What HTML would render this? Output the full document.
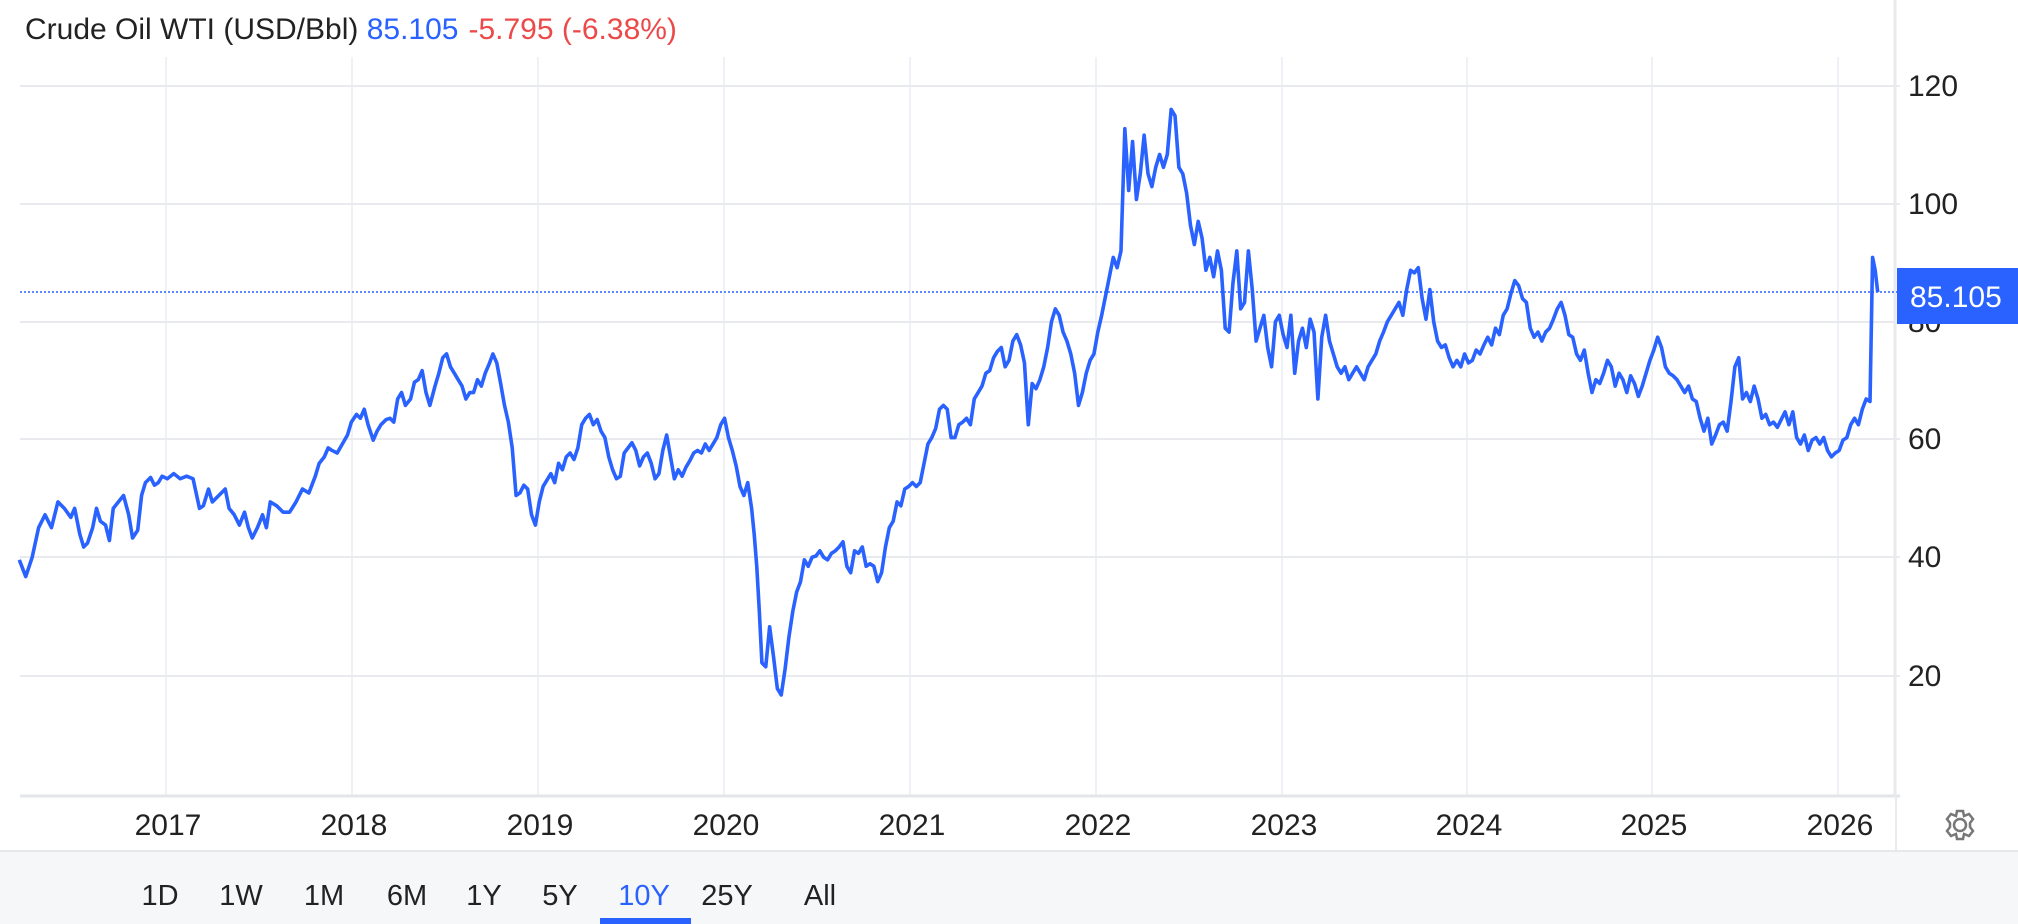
<!DOCTYPE html>
<html><head><meta charset="utf-8"><style>
html,body{margin:0;padding:0;background:#fff;width:2018px;height:924px;overflow:hidden;font-family:"Liberation Sans",Arial,sans-serif}
</style></head><body>
<svg width="2018" height="924" xmlns="http://www.w3.org/2000/svg" font-family="Liberation Sans, Arial, sans-serif">
<rect width="2018" height="924" fill="#fff"/>
<rect x="0" y="851" width="2018" height="73" fill="#f6f7f9"/>
<line x1="0" y1="851" x2="2018" y2="851" stroke="#e6e8eb" stroke-width="2"/>
<g stroke="#eef1f5" stroke-width="2">
<line x1="166" y1="57" x2="166" y2="796"/><line x1="352" y1="57" x2="352" y2="796"/><line x1="538" y1="57" x2="538" y2="796"/><line x1="724" y1="57" x2="724" y2="796"/><line x1="910" y1="57" x2="910" y2="796"/><line x1="1096" y1="57" x2="1096" y2="796"/><line x1="1282" y1="57" x2="1282" y2="796"/><line x1="1467" y1="57" x2="1467" y2="796"/><line x1="1652" y1="57" x2="1652" y2="796"/><line x1="1838" y1="57" x2="1838" y2="796"/>
</g>
<g stroke="#e8eaed" stroke-width="2">
<line x1="20" y1="86" x2="1900" y2="86"/><line x1="20" y1="204" x2="1900" y2="204"/><line x1="20" y1="322" x2="1900" y2="322"/><line x1="20" y1="439" x2="1900" y2="439"/><line x1="20" y1="557" x2="1900" y2="557"/><line x1="20" y1="676" x2="1900" y2="676"/>
</g>
<line x1="20" y1="796" x2="1900" y2="796" stroke="#e3e5e8" stroke-width="3"/>
<line x1="1895" y1="0" x2="1895" y2="796" stroke="#e8eaed" stroke-width="3"/>
<line x1="1896" y1="796" x2="1896" y2="851" stroke="#e8eaed" stroke-width="2"/>
<line x1="20" y1="292" x2="1897" y2="292" stroke="#2962ff" stroke-width="1.5" stroke-dasharray="2,2"/>
<g transform="scale(1.287)">
<polyline fill="none" stroke="#2962ff" stroke-width="2.8" stroke-linejoin="round" points="15,435 20,448 25,433 30,410 35,400 40,410 45,390 50,395 55,402 58,395 62,415 65,425 68,422 72,410 75,395 78,405 82,408 85,420 88,395 92,390 96,385 100,400 103,418 107,412 110,385 113,375 117,371 120,377 123,375 126,370 130,372 135,368 140,372 145,370 150,372 155,395 158,393 162,380 165,390 170,385 175,380 178,395 182,400 186,408 190,398 193,410 196,418 200,410 204,400 207,410 210,390 215,393 220,398 225,398 230,390 235,380 240,383 245,370 248,360 252,355 255,348 258,350 262,352 266,345 270,338 273,328 277,322 280,325 283,318 286,330 290,342 293,335 296,330 300,326 303,325 306,328 309,310 312,305 315,315 319,310 322,297 325,295 328,288 331,305 334,315 338,300 341,290 344,278 347,275 350,285 353,290 356,295 359,300 362,310 365,305 368,305 371,295 374,300 377,290 380,283 383,275 386,282 389,298 392,315 395,328 398,348 401,385 404,383 407,377 410,380 413,400 416,408 419,390 422,378 425,373 428,368 431,375 434,360 437,365 440,355 443,352 446,357 449,348 452,330 455,325 458,322 461,330 464,326 467,335 470,340 473,355 476,365 479,372 482,370 485,352 488,348 491,344 494,350 497,362 500,355 503,352 506,360 509,372 512,368 515,350 518,338 521,355 524,372 527,365 530,370 533,363 536,358 539,352 542,350 545,352 548,345 551,350 554,345 557,340 560,330 563,325 566,340 569,350 572,362 575,378 578,385 581,375 584,395 586,415 588,440 590,475 592,515 595,518 598,487 601,510 604,535 607,540 610,520 613,495 616,475 619,460 622,452 625,435 628,440 631,433 634,432 637,428 640,433 643,435 646,430 649,428 652,425 655,421 658,440 661,445 664,428 667,430 670,425 673,440 676,438 679,440 682,452 685,445 688,425 691,410 694,405 697,390 700,393 703,380 706,378 709,375 712,378 715,375 718,360 721,345 724,340 727,333 730,318 733,315 736,318 739,340 742,340 745,330 748,328 751,325 754,330 757,310 760,305 763,300 766,290 769,288 772,278 775,273 778,270 781,285 784,280 787,265 790,260 793,268 796,282 799,330 802,298 805,302 808,295 811,285 814,270 817,250 820,240 823,245 826,258 829,265 832,275 835,290 838,315 841,305 844,290 847,280 850,275 853,258 856,245 859,230 862,215 865,200 868,208 871,195 874,100 877,148 880,110 883,155 886,135 889,105 892,135 895,145 898,130 901,120 904,130 907,120 910,85 913,90 916,130 919,135 922,150 925,175 928,190 931,172 934,185 937,210 940,200 943,215 946,195 949,210 952,255 955,258 958,220 961,195 964,240 967,235 970,195 973,225 976,265 979,255 982,245 985,270 988,285 991,250 994,245 997,260 1000,270 1003,245 1006,290 1009,265 1012,255 1015,270 1018,248 1021,258 1024,310 1027,262 1030,245 1033,265 1036,275 1039,285 1042,290 1045,285 1048,295 1051,290 1054,285 1057,290 1060,295 1063,285 1066,280 1069,275 1072,265 1075,258 1078,250 1081,245 1084,240 1087,235 1090,245 1093,225 1096,210 1099,212 1102,208 1105,232 1108,248 1111,225 1114,250 1117,265 1120,270 1123,268 1126,278 1129,285 1132,280 1135,285 1138,275 1141,282 1144,280 1147,272 1150,275 1153,268 1156,262 1159,268 1162,255 1165,260 1168,245 1171,240 1174,228 1177,218 1180,222 1183,232 1186,235 1189,255 1192,262 1195,258 1198,265 1201,258 1204,255 1207,248 1210,240 1213,235 1216,245 1219,260 1222,262 1225,275 1228,280 1231,272 1234,290 1237,305 1240,295 1243,298 1246,290 1249,280 1252,285 1255,300 1258,290 1261,295 1264,305 1267,292 1270,298 1273,308 1276,300 1279,290 1282,280 1285,272 1288,262 1291,270 1294,285 1297,290 1300,292 1303,295 1306,300 1309,305 1312,300 1315,310 1318,312 1321,325 1324,335 1327,325 1330,345 1333,338 1336,330 1339,328 1342,335 1345,312 1348,285 1351,278 1354,310 1357,305 1360,312 1363,300 1366,310 1369,325 1372,322 1375,330 1378,328 1381,332 1384,326 1387,320 1390,330 1393,320 1396,340 1399,345 1402,338 1405,350 1408,342 1411,340 1414,345 1417,340 1420,350 1423,355 1426,352 1429,350 1432,342 1435,340 1438,330 1441,325 1444,330 1447,318 1450,310 1453,312 1455,200 1457,210 1459,227"/>
</g>
<text x="25" y="39" font-size="30" fill="#222">Crude Oil WTI (USD/Bbl) <tspan fill="#2962ff">85.105</tspan><tspan fill="#ec4a4a" dx="10">-5.795 (-6.38%)</tspan></text>
<g font-size="30" fill="#222">
<text x="1908" y="96">120</text><text x="1908" y="214">100</text><text x="1908" y="332">80</text><text x="1908" y="449">60</text><text x="1908" y="567">40</text><text x="1908" y="686">20</text>
</g>
<rect x="1897" y="268" width="121" height="56" fill="#2962ff"/>
<text x="1910" y="307" font-size="30" fill="#fff">85.105</text>
<g font-size="30" fill="#222" text-anchor="middle">
<text x="168" y="835">2017</text><text x="354" y="835">2018</text><text x="540" y="835">2019</text><text x="726" y="835">2020</text><text x="912" y="835">2021</text><text x="1098" y="835">2022</text><text x="1284" y="835">2023</text><text x="1469" y="835">2024</text><text x="1654" y="835">2025</text><text x="1840" y="835">2026</text>
</g>
<g transform="translate(1960,825)" fill="none" stroke="#777" stroke-width="2.5">
<circle r="6"/>
<path d="M-3,-14 L3,-14 L4,-9 L9,-11 L13,-6 L10,-2 L10,2 L13,6 L9,11 L4,9 L3,14 L-3,14 L-4,9 L-9,11 L-13,6 L-10,2 L-10,-2 L-13,-6 L-9,-11 L-4,-9 Z"/>
</g>
<g font-size="29" fill="#222" text-anchor="middle">
<text x="160" y="905">1D</text><text x="241" y="905">1W</text><text x="324" y="905">1M</text><text x="407" y="905">6M</text><text x="484" y="905">1Y</text><text x="560" y="905">5Y</text><text x="644" y="905" fill="#2962ff">10Y</text><text x="727" y="905">25Y</text><text x="820" y="905">All</text>
</g>
<rect x="600" y="918" width="91" height="6" fill="#2962ff"/>
</svg>
</body></html>
